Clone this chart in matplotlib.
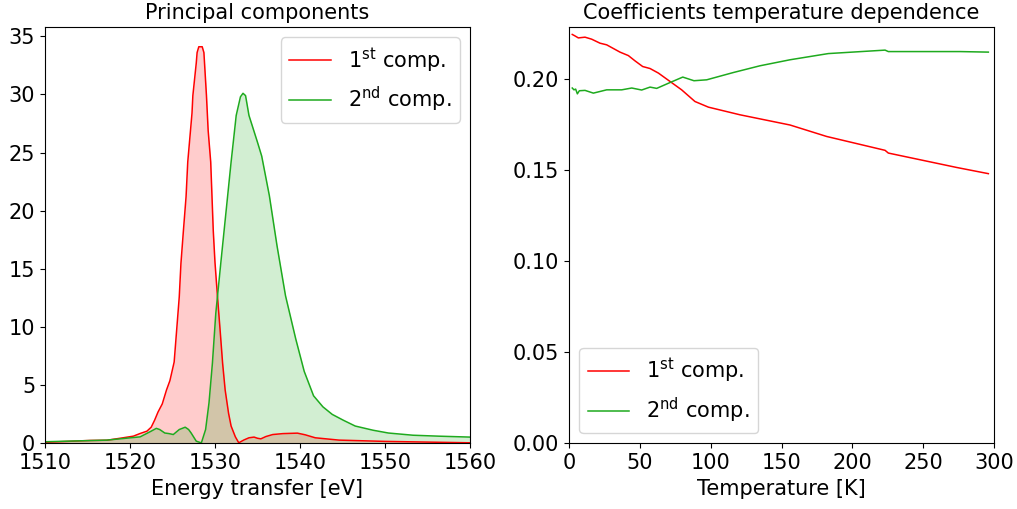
import matplotlib
matplotlib.use("Agg")
import matplotlib.pyplot as plt
import numpy as np

plt.rcParams['font.size'] = 15

# principal components vs energy transfer
energy_1 = [1510.0, 1515.3, 1517.3, 1519.2, 1520.4, 1521.2, 1522.0, 1522.5, 1522.9,
            1523.3, 1523.8, 1524.3, 1524.7, 1525.2, 1525.5, 1525.8, 1526.0, 1526.3,
            1526.6, 1526.8, 1527.3, 1527.4, 1527.8, 1527.9, 1528.1, 1528.5, 1528.7,
            1529.0, 1529.2, 1529.5, 1529.8, 1530.0, 1530.3, 1530.6, 1530.9, 1531.2,
            1531.6, 1531.9, 1532.4, 1532.8, 1533.4, 1534.0, 1534.6, 1535.0, 1535.4,
            1536.0, 1536.8, 1538.0, 1539.7, 1540.6, 1541.8, 1544.6, 1550.0, 1560.0]
comp_1 = [0.1, 0.26, 0.28, 0.49, 0.63, 0.86, 1.06, 1.4, 2.0,
          2.7, 3.4, 4.6, 5.4, 7.0, 9.8, 12.6, 15.5, 18.4,
          21.2, 24.2, 28.4, 29.9, 32.7, 33.6, 34.1, 34.1, 33.6,
          29.9, 26.9, 24.2, 18.3, 15.6, 12.6, 9.8, 6.9, 4.6,
          2.6, 1.5, 0.57, 0.06, 0.3, 0.49, 0.55, 0.45, 0.4,
          0.6, 0.77, 0.85, 0.89, 0.75, 0.49, 0.29, 0.18, 0.06]

energy_2 = [1510.0, 1517.3, 1521.2, 1522.5, 1523.1, 1523.5, 1524.1, 1524.6, 1525.1,
            1525.8, 1526.5, 1526.9, 1527.2, 1527.8, 1528.4, 1528.9, 1529.3, 1529.7,
            1530.1, 1530.7, 1531.3, 1531.9, 1532.5, 1533.0, 1533.3, 1533.6, 1534.0,
            1535.0, 1535.5, 1536.4, 1537.3, 1538.3, 1539.5, 1540.5, 1541.6, 1542.7,
            1543.8, 1545.1, 1546.5, 1548.6, 1550.4, 1553.3, 1556.3, 1560.0]
comp_2 = [0.15, 0.29, 0.57, 1.06, 1.3, 1.2, 0.9, 0.85, 0.77,
          1.2, 1.4, 1.2, 0.9, 0.2, 0.05, 1.2, 3.5, 6.9,
          11.2, 15.6, 19.9, 24.2, 28.2, 29.8, 30.1, 29.9, 28.2,
          25.9, 24.7, 21.3, 17.0, 12.7, 9.0, 6.2, 4.1, 3.15,
          2.5, 2.0, 1.5, 1.14, 0.9, 0.71, 0.63, 0.55]

# coefficients vs temperature
temp_1 = [2.3, 4.2, 6.6, 11.3, 16.0, 21.9, 26.6, 36.0, 41.9, 46.6, 52.0, 57.2,
          63.1, 71.3, 79.5, 88.9, 98.4, 120.7, 156.0, 181.9, 223.1, 225.4, 273.6, 296.0]
coef_1 = [0.2245, 0.2237, 0.2226, 0.2230, 0.2219, 0.2197, 0.2188, 0.2148, 0.2129,
          0.2100, 0.2069, 0.2058, 0.2033, 0.1987, 0.1941, 0.1877, 0.1846, 0.1804,
          0.1748, 0.1685, 0.1609, 0.1594, 0.1515, 0.1481]

temp_2 = [2.3, 3.5, 4.7, 5.9, 7.3, 11.3, 17.2, 26.6, 37.2, 44.3, 51.3, 57.2, 61.9,
          71.3, 80.3, 88.2, 97.2, 116.0, 134.8, 156.0, 183.0, 223.1, 225.4, 276.0, 296.0]
coef_2 = [0.1951, 0.1941, 0.1945, 0.1919, 0.1936, 0.1938, 0.1923, 0.1941, 0.1941,
          0.1951, 0.1940, 0.1956, 0.1949, 0.1981, 0.2011, 0.1991, 0.1996, 0.2036,
          0.2073, 0.2106, 0.2140, 0.2159, 0.2151, 0.2151, 0.2148]

red = 'red'
green = '#1eaa1e'
labels = ['1$^{\\rm st}$ comp.', '2$^{\\rm nd}$ comp.']

fig, (ax1, ax2) = plt.subplots(1, 2, figsize=(10.17, 5.09), dpi=100)
fig.subplots_adjust(left=0.0442, right=0.9774, top=0.947, bottom=0.1287, wspace=0.233)

ax1.plot(energy_1, comp_1, color=red, lw=1.1, label=labels[0])
ax1.fill_between(energy_1, 0, comp_1, color=red, alpha=0.2, lw=0)
ax1.plot(energy_2, comp_2, color=green, lw=1.1, label=labels[1])
ax1.fill_between(energy_2, 0, comp_2, color=green, alpha=0.2, lw=0)
ax1.set_xlim(1510, 1560)
ax1.set_ylim(0, 35.8)
ax1.set_xlabel('Energy transfer [eV]')
ax1.set_title('Principal components', fontsize=15)
ax1.legend(loc='upper right')

ax2.plot(temp_1, coef_1, color=red, lw=1.1, label=labels[0])
ax2.plot(temp_2, coef_2, color=green, lw=1.1, label=labels[1])
ax2.set_xlim(0, 300)
ax2.set_ylim(0, 0.2286)
ax2.set_xlabel('Temperature [K]')
ax2.set_title('Coefficients temperature dependence', fontsize=15)
ax2.legend(loc='lower left')

plt.savefig('out.png')
